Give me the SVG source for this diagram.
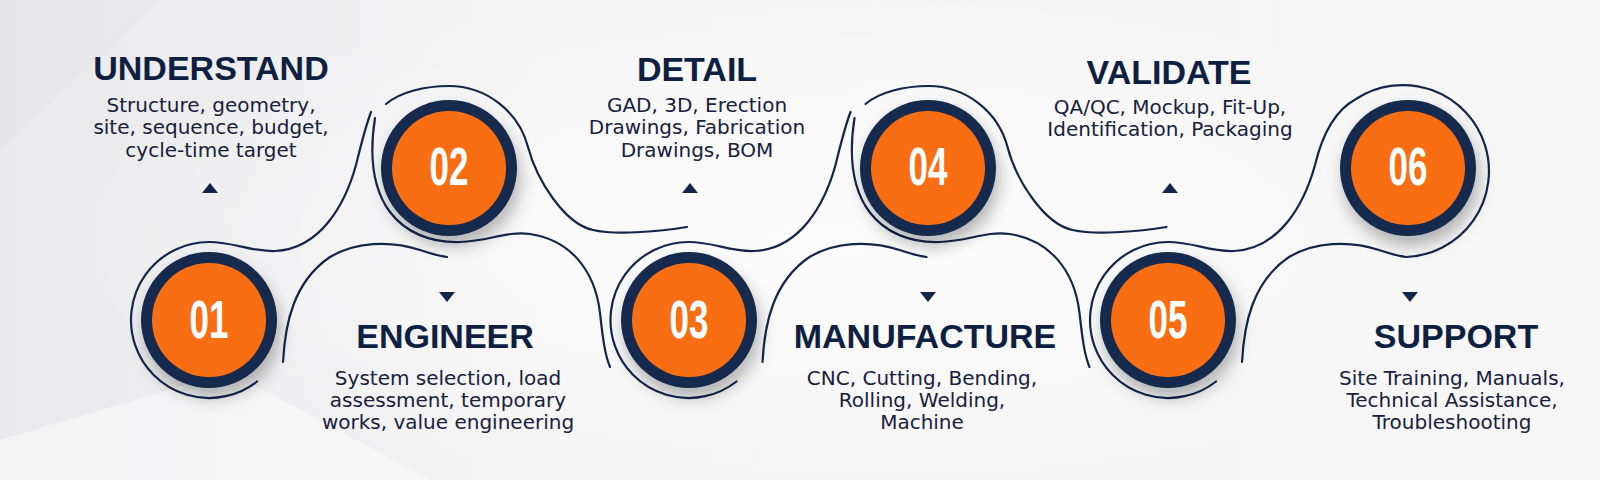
<svg xmlns="http://www.w3.org/2000/svg" width="1600" height="480" viewBox="0 0 1600 480">
  <defs>
    <style>
      .ttl{font-family:"Liberation Sans",Arial,sans-serif;font-weight:bold;font-size:34px;fill:#0f1f42;text-anchor:middle}
      .dsc{font-family:"DejaVu Sans","Noto Sans",sans-serif;font-size:20px;fill:#17213d;text-anchor:middle}
      .num{font-family:"Liberation Sans",Arial,sans-serif;font-weight:bold;font-size:53px;fill:#ffffff;text-anchor:middle}
      .ring{fill:#15294d}
      .core{fill:#fa6e13}
      .ln{fill:none;stroke:#13264a;stroke-width:2.2;stroke-linecap:round}
      .tri{fill:#13264a}
    </style>
    <linearGradient id="bg" x1="0" y1="0" x2="1" y2="0">
      <stop offset="0" stop-color="#e9e9eb"/>
      <stop offset="0.35" stop-color="#f4f4f5"/>
      <stop offset="1" stop-color="#f6f6f7"/>
    </linearGradient>
    <radialGradient id="glow" cx="0.5" cy="0.5" r="0.5">
      <stop offset="0" stop-color="#ffffff" stop-opacity="0.7"/>
      <stop offset="1" stop-color="#ffffff" stop-opacity="0"/>
    </radialGradient>
    <filter id="sh" x="-40%" y="-40%" width="180%" height="190%">
      <feDropShadow dx="3" dy="10" stdDeviation="8" flood-color="#000" flood-opacity="0.28"/>
    </filter>
    <path id="tu" d="M-8,5 L8,5 L0,-5 Z"/>
    <path id="td" d="M-8,-5 L8,-5 L0,5 Z"/>
    <!-- connector shapes for one (lower, upper) pair, based on 01/02 -->
    <path id="arcS" d="M257,381.5 A78,78 0 1 1 209,242 C235,242 250,252 275,251 C320,249 345,205 356,165 C361,145 365,128 371,112"/>
    <path id="lowR" d="M283,362 C285,325 293,282 330,257 C355,242 390,240 420,250 C432,254 440,256 447,257"/>
    <path id="topD" d="M386,104 C400,92 425,86 449,86 A82,82 0 0 1 528,147 C537,181 565,224 593,230 C615,235 655,232 687,227"/>
    <path id="leftD" d="M375,118 C370,150 370,185 390,212 C405,232 430,243 460,242 C490,241 505,231 530,234 C570,240 595,270 600,313 C603,340 605,355 610,367"/>
  </defs>

  <rect x="0" y="0" width="1600" height="480" fill="url(#bg)"/>
  <ellipse cx="820" cy="240" rx="760" ry="260" fill="url(#glow)"/>
  <polygon points="0,480 0,440 230,372 430,480" fill="#ffffff" opacity="0.45"/>
  <polygon points="0,0 160,0 0,150" fill="#e4e4e6" opacity="0.5"/>

  <g id="connectors">
    <use href="#arcS"/>
    <use href="#lowR"/>
    <use href="#topD"/>
    <use href="#leftD"/>
    <g transform="translate(479.5,0)">
      <use href="#arcS"/>
      <use href="#lowR"/>
      <use href="#topD"/>
      <use href="#leftD"/>
    </g>
    <path class="ln" d="M1216,381.5 A78,78 0 1 1 1168,242 C1194,242 1209,252 1234,251 C1279,249 1304,205 1315,165 C1321,140 1332,112 1356,99 A86,86 0 1 1 1406,257 C1399,256 1391,254 1379,250 C1349,240 1314,242 1289,257 C1252,282 1244,325 1242,362"/>
  </g>
  <style>#connectors use{fill:none;stroke:#13264a;stroke-width:2.2;stroke-linecap:round}</style>

  <g id="node01">
    <g filter="url(#sh)"><circle class="ring" cx="209" cy="320" r="68"/></g>
    <circle class="core" cx="209" cy="320" r="57"/>
    <text class="num" transform="translate(209,338) scale(0.66,1)">01</text>
    <text class="ttl" x="211" y="80">UNDERSTAND</text>
    <text class="dsc" x="211" y="111.5">Structure, geometry,</text>
    <text class="dsc" x="211" y="134">site, sequence, budget,</text>
    <text class="dsc" x="211" y="156.5">cycle-time target</text>
    <use class="tri" href="#tu" x="210" y="188"/>
  </g>

  <g id="node02">
    <g filter="url(#sh)"><circle class="ring" cx="449" cy="168" r="68"/></g>
    <circle class="core" cx="449" cy="168" r="57"/>
    <text class="num" transform="translate(449,185) scale(0.66,1)">02</text>
    <use class="tri" href="#td" x="447" y="297"/>
    <text class="ttl" x="445" y="348">ENGINEER</text>
    <text class="dsc" x="448" y="385">System selection, load</text>
    <text class="dsc" x="448" y="407">assessment, temporary</text>
    <text class="dsc" x="448" y="429">works, value engineering</text>
  </g>

  <g id="node03">
    <g filter="url(#sh)"><circle class="ring" cx="689" cy="320" r="68"/></g>
    <circle class="core" cx="689" cy="320" r="57"/>
    <text class="num" transform="translate(689,338) scale(0.66,1)">03</text>
    <text class="ttl" x="697" y="81">DETAIL</text>
    <text class="dsc" x="697" y="111.5">GAD, 3D, Erection</text>
    <text class="dsc" x="697" y="134">Drawings, Fabrication</text>
    <text class="dsc" x="697" y="156.5">Drawings, BOM</text>
    <use class="tri" href="#tu" x="690" y="188"/>
  </g>

  <g id="node04">
    <g filter="url(#sh)"><circle class="ring" cx="928" cy="168" r="68"/></g>
    <circle class="core" cx="928" cy="168" r="57"/>
    <text class="num" transform="translate(928,185) scale(0.66,1)">04</text>
    <use class="tri" href="#td" x="928" y="297"/>
    <text class="ttl" x="925" y="348">MANUFACTURE</text>
    <text class="dsc" x="922" y="385">CNC, Cutting, Bending,</text>
    <text class="dsc" x="922" y="407">Rolling, Welding,</text>
    <text class="dsc" x="922" y="429">Machine</text>
  </g>

  <g id="node05">
    <g filter="url(#sh)"><circle class="ring" cx="1168" cy="320" r="68"/></g>
    <circle class="core" cx="1168" cy="320" r="57"/>
    <text class="num" transform="translate(1168,338) scale(0.66,1)">05</text>
    <text class="ttl" x="1169" y="84">VALIDATE</text>
    <text class="dsc" x="1170" y="113.5">QA/QC, Mockup, Fit-Up,</text>
    <text class="dsc" x="1170" y="136">Identification, Packaging</text>
    <use class="tri" href="#tu" x="1170" y="188"/>
  </g>

  <g id="node06">
    <g filter="url(#sh)"><circle class="ring" cx="1408" cy="168" r="68"/></g>
    <circle class="core" cx="1408" cy="168" r="57"/>
    <text class="num" transform="translate(1408,185) scale(0.66,1)">06</text>
    <use class="tri" href="#td" x="1410" y="297"/>
    <text class="ttl" x="1456" y="348">SUPPORT</text>
    <text class="dsc" x="1452" y="385">Site Training, Manuals,</text>
    <text class="dsc" x="1452" y="407">Technical Assistance,</text>
    <text class="dsc" x="1452" y="429">Troubleshooting</text>
  </g>
</svg>
